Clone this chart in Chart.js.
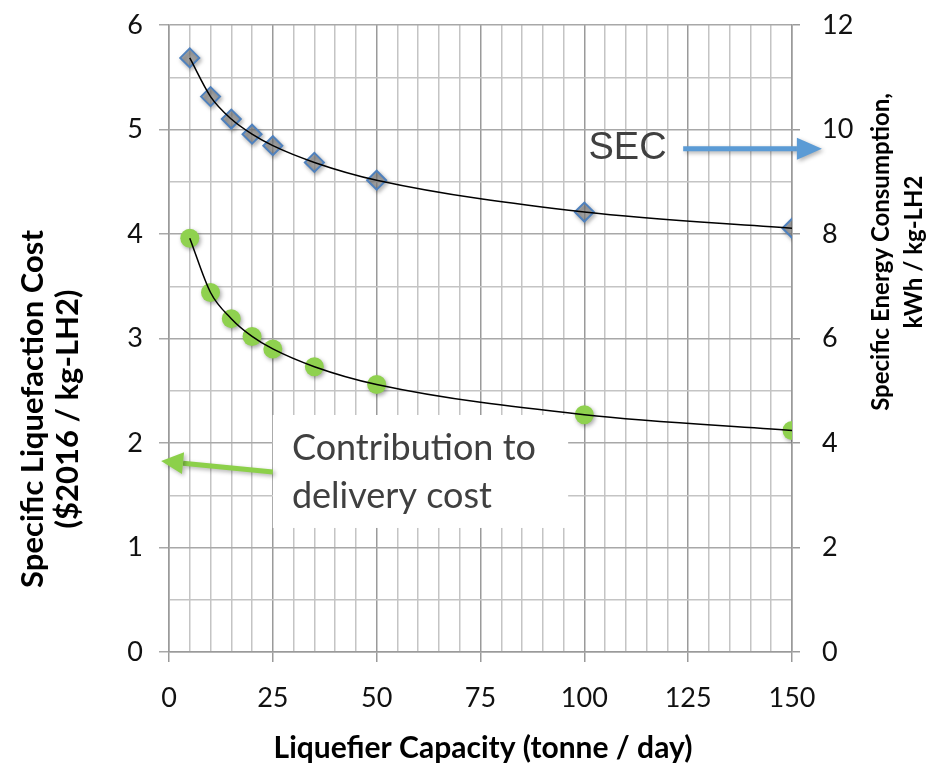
<!DOCTYPE html>
<html>
<head>
<meta charset="utf-8">
<script src="https://cdn.jsdelivr.net/npm/chart.js@4.4.1/dist/chart.umd.min.js"></script>
<style>
  html, body { margin: 0; padding: 0; background: #fff; }
  #chart { display: block; }
</style>
</head>
<body>
<canvas id="chart" width="936" height="765"></canvas>
<script>
// liquefier capacity, tonne / day
const capacity = [5, 10, 15, 20, 25, 35, 50, 100, 150];
// specific liquefaction cost, $2016 / kg-LH2 (left axis)
const liqCost = [3.96, 3.44, 3.19, 3.02, 2.90, 2.73, 2.56, 2.27, 2.12];
// specific energy consumption, kWh / kg-LH2 (right axis)
const secValues = [11.37, 10.63, 10.20, 9.91, 9.69, 9.37, 9.03, 8.42, 8.11];

const xLabelTicks = [0, 25, 50, 75, 100, 125, 150];
const costTicks = [0, 1, 2, 3, 4, 5, 6];
const secTicks = [0, 2, 4, 6, 8, 10, 12];

const costPts = capacity.map((x, i) => ({x, y: liqCost[i]}));
const secPts = capacity.map((x, i) => ({x, y: secValues[i]}));

const FONT = 'Lato, "Open Sans", sans-serif';
const TXT = '#404040';

function arrow(ctx, x1, y1, x2, y2, color, w, headLen, headHalf) {
    let ang = Math.atan2(y2 - y1, x2 - x1);
    let bx = x2 - Math.cos(ang) * headLen, by = y2 - Math.sin(ang) * headLen;
    ctx.save();
    ctx.shadowColor = 'rgba(0,0,0,0.3)';
    ctx.shadowBlur = 4;
    ctx.shadowOffsetX = 2;
    ctx.shadowOffsetY = 2;
    ctx.strokeStyle = color;
    ctx.fillStyle = color;
    ctx.lineWidth = w;
    ctx.beginPath();
    ctx.moveTo(x1, y1);
    ctx.lineTo(bx, by);
    ctx.stroke();
    ctx.beginPath();
    ctx.moveTo(x2, y2);
    ctx.lineTo(bx - Math.sin(ang) * headHalf, by + Math.cos(ang) * headHalf);
    ctx.lineTo(bx + Math.sin(ang) * headHalf, by - Math.cos(ang) * headHalf);
    ctx.closePath();
    ctx.fill();
    ctx.restore();
}

const shadowPlugin = {
    id: 'pointShadow',
    beforeDatasetDraw(chart, args) {
        if (chart.data.datasets[args.index].shadow) {
            let ctx = chart.ctx;
            ctx.save();
            ctx.shadowColor = 'rgba(0,0,0,0.35)';
            ctx.shadowBlur = 4;
            ctx.shadowOffsetX = 1.5;
            ctx.shadowOffsetY = 2;
        }
    },
    afterDatasetDraw(chart, args) {
        if (chart.data.datasets[args.index].shadow) chart.ctx.restore();
    }
};

const notesPlugin = {
    id: 'notes',
    beforeDatasetsDraw(chart) {
        let {ctx, scales: {x, y}} = chart;
        // white box behind the cost note
        let l = x.getPixelForValue(25), r = x.getPixelForValue(96.1);
        let t = y.getPixelForValue(2.268), b = y.getPixelForValue(1.187);
        ctx.save();
        ctx.fillStyle = '#fff';
        ctx.fillRect(l, t, r - l, b - t);
        ctx.restore();
    },
    afterDatasetsDraw(chart) {
        let {ctx, scales: {x, y, y2}} = chart;
        ctx.save();
        ctx.fillStyle = TXT;
        ctx.textBaseline = 'alphabetic';
        ctx.textAlign = 'left';
        ctx.font = '36px ' + FONT;
        ctx.fillText('Contribution to', x.getPixelForValue(29.6), y.getPixelForValue(1.837));
        ctx.fillText('delivery cost', x.getPixelForValue(29.6), y.getPixelForValue(1.378));

        ctx.font = '38px "Liberation Sans", Arial, sans-serif';
        ctx.textBaseline = 'middle';
        ctx.fillText('SEC', x.getPixelForValue(101), y2.getPixelForValue(9.63));
        ctx.restore();

        arrow(ctx, x.getPixelForValue(123.8), y2.getPixelForValue(9.63),
            x.getPixelForValue(157.2), y2.getPixelForValue(9.63), '#5b9bd5', 5, 25, 11);
        arrow(ctx, x.getPixelForValue(25), y.getPixelForValue(1.722),
            x.getPixelForValue(-1.9), y.getPixelForValue(1.828), '#8cd04a', 5, 22, 11);
    },
    afterDraw(chart) {
        let ctx = chart.ctx;
        ctx.save();
        ctx.fillStyle = '#000';
        ctx.textAlign = 'center';
        ctx.textBaseline = 'middle';
        ctx.font = 'bold 30px ' + FONT;
        ctx.fillText('Liquefier Capacity (tonne / day)', 483, 748);

        ctx.save();
        ctx.font = 'bold 31px ' + FONT;
        ctx.translate(51, 409);
        ctx.rotate(-Math.PI / 2);
        ctx.fillText('Specific Liquefaction Cost', 0, -18);
        ctx.fillText('($2016 / kg-LH2)', 0, 17);
        ctx.restore();

        ctx.save();
        ctx.font = 'bold 24px ' + FONT;
        ctx.translate(897, 252);
        ctx.rotate(-Math.PI / 2);
        ctx.fillText('Specific Energy Consumption,', 0, -16);
        ctx.fillText('kWh / kg-LH2', 0, 17);
        ctx.restore();
        ctx.restore();
    }
};

function noPad(s) {
    s.paddingTop = 0;
    s.paddingBottom = 0;
}

const chart = new Chart(document.querySelector('#chart'), {
    type: 'scatter',
    data: {
        datasets: [
            {
                type: 'line', data: costPts, yAxisID: 'y', order: 0,
                borderColor: '#000', borderWidth: 1.5, pointRadius: 0,
                cubicInterpolationMode: 'monotone', fill: false
            },
            {
                type: 'line', data: secPts, yAxisID: 'y2', order: 0,
                borderColor: '#000', borderWidth: 1.5, pointRadius: 0,
                cubicInterpolationMode: 'monotone', fill: false
            },
            {
                label: 'Cost', data: costPts, yAxisID: 'y', order: 1, shadow: true,
                pointStyle: 'circle', pointRadius: 9.5, backgroundColor: '#8fd14f',
                borderWidth: 0, showLine: false
            },
            {
                label: 'SEC', data: secPts, yAxisID: 'y2', order: 1, shadow: true,
                pointStyle: 'rectRot', pointRadius: 9.5,
                backgroundColor: 'rgba(140,140,140,0.65)', borderColor: '#4f81bd',
                borderWidth: 2, showLine: false
            }
        ]
    },
    options: {
        responsive: false,
        animation: false,
        layout: {padding: {top: 25, left: 0, right: 0, bottom: 0}},
        plugins: {legend: {display: false}, tooltip: {enabled: false}},
        scales: {
            x: {
                type: 'linear', min: 0, max: 150,
                afterFit: s => { s.height = 113; s.paddingLeft = 0; s.paddingRight = 0; },
                ticks: {
                    stepSize: 5, autoSkip: false, maxRotation: 0, padding: 20,
                    color: '#111', font: {family: FONT, size: 27},
                    callback: v => xLabelTicks.includes(v) ? String(v) : ''
                },
                grid: {
                    color: c => c.tick && c.tick.value % 25 === 0 ? '#9a9a9a' : '#c4c4c4',
                    tickColor: c => c.tick && c.tick.value % 25 === 0 ? '#9a9a9a' : 'transparent',
                    lineWidth: 1.5, tickLength: 10
                },
                border: {color: '#9a9a9a', width: 1.5}
            },
            y: {
                position: 'left', min: 0, max: 6,
                afterFit: s => { s.width = 169; noPad(s); },
                ticks: {
                    stepSize: 0.5, autoSkip: false, padding: 16,
                    color: '#111', font: {family: FONT, size: 27},
                    callback: v => costTicks.includes(v) ? String(v) : ''
                },
                grid: {
                    color: c => c.tick && Number.isInteger(c.tick.value) ? '#a8a8a8' : '#c4c4c4',
                    tickColor: c => c.tick && Number.isInteger(c.tick.value) ? '#a8a8a8' : 'transparent',
                    lineWidth: 1.5, tickLength: 10
                },
                border: {color: '#9a9a9a', width: 1.5}
            },
            y2: {
                position: 'right', min: 0, max: 12,
                afterFit: s => { s.width = 936 - 792; noPad(s); },
                ticks: {
                    stepSize: 2, padding: 22,
                    color: '#111', font: {family: FONT, size: 27},
                    callback: v => secTicks.includes(v) ? String(v) : ''
                },
                grid: {drawOnChartArea: false, color: '#9a9a9a', lineWidth: 1.5, tickLength: 8},
                border: {color: '#9a9a9a', width: 1.5}
            }
        }
    },
    plugins: [shadowPlugin, notesPlugin]
});
</script>
</body>
</html>
